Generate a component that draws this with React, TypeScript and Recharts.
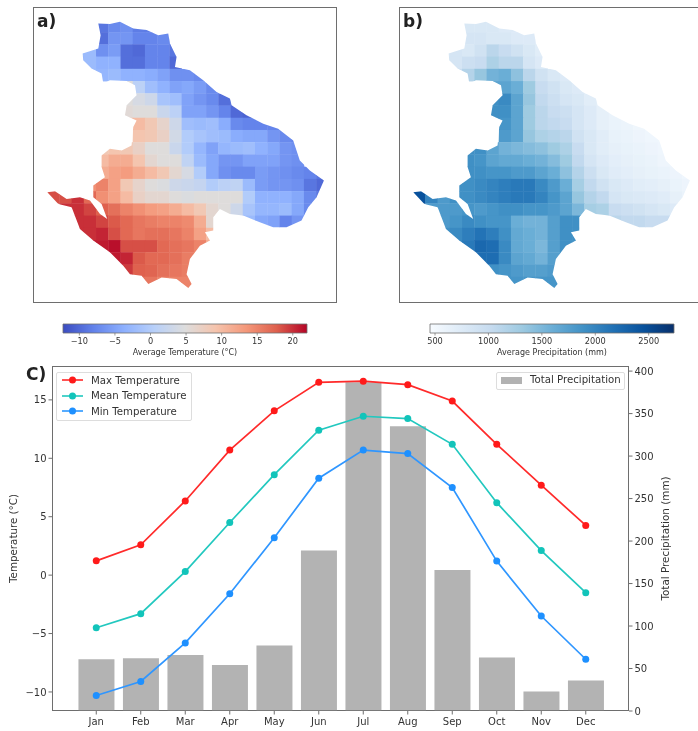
import {
  Bar,
  BarChart,
  ComposedChart,
  Line,
  Scatter,
  ScatterChart,
  XAxis,
  YAxis,
} from 'recharts';

// Monthly climate
const months = ['Jan', 'Feb', 'Mar', 'Apr', 'May', 'Jun', 'Jul', 'Aug', 'Sep', 'Oct', 'Nov', 'Dec'];
const maxTemp = [1.22, 2.6, 6.35, 10.7, 14.06, 16.5, 16.6, 16.3, 14.9, 11.2, 7.7, 4.25];
const meanTemp = [-4.5, -3.3, 0.3, 4.5, 8.6, 12.4, 13.6, 13.4, 11.2, 6.2, 2.1, -1.5];
const minTemp = [-10.3, -9.1, -5.8, -1.6, 3.2, 8.3, 10.7, 10.4, 7.5, 1.2, -3.5, -7.2];
const totalPrecip = [61, 62, 66, 54, 77, 189, 387, 335, 166, 63, 23, 36];

// Grid maps: first column of each row, then one list of values per row
const rowStarts = [4, 4, 2, 2, 3, 6, 6, 6, 6, 7, 4, 4, 4, 3, 0, 1, 2, 2, 3, 5, 6, 7];

const tempRows = [
  [-9, -7.3, -6.7, -8.4, -8.4, -7.8],
  [-9.5, -6.2, -6.2, -7.8, -7.8, -7.3, -7.8],
  [-2.3, -2.3, -6.7, -5.6, -9.5, -10, -7.8, -7.8, -9],
  [-2.9, -2.3, -3.4, -3.4, -9.5, -9.5, -7.8, -7.8, -10],
  [-2.3, -2.9, -2.3, -3.4, -3.4, -4, -5, -6.7, -6.7, -7.3],
  [5, 1, -1.8, -3.4, -5, -4.5, -5.6, -7.3],
  [5, 4, 3, -1, -1.8, -5, -6.2, -7.3, -9.5, -9],
  [5.5, 5, 5, 2.5, 1, -5, -5, -6.2, -7.8, -10, -10.5],
  [9, 10, 8.5, 6.5, 3, -1.8, -2.3, -1.8, -4, -7.3, -7.8, -7.8, -7.8],
  [9, 8.5, 7, 3.5, 0, -1, -1.8, -2.3, -4, -4.5, -4.5, -6.2, -7.3, -7.8],
  [8.5, 9, 8.5, 7, 5, 5, 2.5, 0, -2.9, -5, -2.9, -2.3, -1.8, -3.4, -4.5, -6.2, -6.7],
  [10, 11.5, 11.5, 9, 6, 5, 5, 1.5, -2.3, -4.5, -6.2, -6.2, -5, -5, -5, -6.2, -6.7],
  [11.5, 12.5, 13, 11.5, 10, 8.5, 6, 4, 0, -4.5, -6.7, -7.3, -7.3, -5.6, -6.2, -6.7, -7.3, -7.8, -9],
  [14, 15, 12.5, 8.5, 6.5, 5, 4.5, 3, 2.5, 2, 0, 1, 1.5, -2.3, -5.6, -6.2, -6.2, -6.7, -9, -10],
  [18.5, 18.5, 20, 17, 14, 12.5, 10, 7, 6, 6, 5, 4.5, 5, 5, 5, 5, 0, -3.4, -3.4, -3.4, -4.5, -7.3, -9],
  [20, 20, 19, 17.6, 16.5, 15, 14, 13, 12.5, 11.5, 10, 8.5, 6, 5, 3, -1, -2.9, -2.9, -2.3, -4.5, -7.3],
  [20, 20, 19, 18, 17, 16, 15.5, 15, 15, 14.5, 11.5, 6, 5, 3, -2.3, -4.5, -5, -7.8, -6.2],
  [20, 20, 20.5, 18.5, 17, 16, 16.5, 16.5, 16, 15, 12.5, 10],
  [21, 21, 21.5, 18.5, 18.5, 18.5, 17, 16.5, 16, 15, 11.5],
  [21, 20.5, 18, 17, 17, 16.5, 15.5, 14],
  [19.5, 17.6, 17.3, 16.5, 16, 15.5, 14],
  [16, 16, 15, 15, 15, 15],
];

const precipRows = [
  [800, 800, 800, 750, 750, 700],
  [850, 850, 800, 800, 750, 750, 700],
  [800, 850, 800, 900, 1100, 1000, 900, 800, 700],
  [850, 850, 950, 1000, 1200, 1100, 1100, 850, 750],
  [1000, 1150, 1350, 1550, 1600, 1400, 1100, 900, 800, 750],
  [1700, 1700, 1600, 1300, 1000, 900, 800, 750],
  [1900, 1950, 1700, 1350, 1050, 950, 850, 800, 700, 650],
  [1900, 1900, 1700, 1300, 1100, 1000, 950, 850, 750, 650, 600],
  [1900, 1850, 1700, 1300, 1100, 1050, 1000, 850, 750, 650, 600, 580, 550],
  [1800, 1700, 1350, 1200, 1150, 1100, 900, 800, 700, 620, 600, 570, 540, 530],
  [1900, 1900, 1700, 1550, 1500, 1450, 1400, 1300, 1200, 1000, 800, 700, 650, 620, 600, 570, 540],
  [1900, 1850, 1700, 1650, 1650, 1600, 1550, 1450, 1300, 1050, 850, 750, 680, 650, 620, 600, 560, 530],
  [1900, 1900, 1850, 1850, 1800, 1800, 1700, 1600, 1400, 1150, 950, 800, 720, 680, 650, 620, 600, 570, 540],
  [1900, 1900, 1950, 2000, 2050, 2100, 2100, 1950, 1800, 1600, 1250, 1050, 900, 800, 750, 700, 680, 650, 600, 570],
  [2450, 2000, 1800, 1900, 1900, 1950, 2000, 2050, 2100, 2100, 2000, 1850, 1700, 1350, 1150, 1050, 850, 800, 780, 750, 720, 650, 600],
  [1800, 1800, 1800, 1850, 1800, 1850, 1900, 1900, 1850, 1850, 1800, 1700, 1500, 1250, 1200, 1000, 950, 900, 850, 800, 750],
  [1800, 1850, 1950, 1900, 1850, 1850, 1600, 1550, 1550, 1750, 1900, 1900, 1300, 1200, 1100, 1050, 1050, 1000, 1000],
  [1900, 1950, 2050, 2150, 2050, 1900, 1650, 1600, 1550, 1750, 1900, 1900],
  [2000, 2100, 2250, 2200, 1950, 1650, 1600, 1500, 1750, 1900, 1900],
  [2200, 2200, 1950, 1700, 1650, 1550, 1750, 1850],
  [1900, 1850, 1800, 1750, 1750, 1800, 1850],
  [1850, 1850, 1850, 1850, 1850, 1850],
];

// Basin outline in grid units (columns, rows)
const outlineX = [
  4.17, 5.12, 5.94, 7.03, 8.12, 9.07, 9.89, 10.03, 10.57, 10.44, 11.66, 12.75, 13.84, 14.93, 15.07, 16.29,
  17.66, 18.88, 20.11, 20.65, 21.47, 22.62, 22.02, 21.34, 20.79, 19.56, 18.47, 17.38, 16.02, 14.93, 14.11,
  13.57, 13.57, 12.89, 13.3, 12.48, 11.66, 11.39, 11.8, 11.53, 10.57, 9.35, 8.26, 7.71, 6.76, 6.21, 5.12,
  3.76, 2.67, 1.99, 0.9, 0, 0.63, 1.58, 2.67, 3.49, 4.31, 4.9, 4.44, 3.76, 3.76, 4.71, 4.44, 4.44, 5.12,
  6.08, 6.89, 7.03, 7.3, 6.35, 6.49, 7.3, 7.17, 6.49, 5.12, 4.58, 4.44, 3.62, 2.94, 2.89, 4.17, 4.36,
];
const outlineY = [
  0.27, 0.33, 0.14, 0.68, 0.82, 1.23, 1.09, 1.91, 3.01, 3.83, 4.1, 4.92, 5.87, 6.42, 6.97, 7.79, 8.47, 8.88,
  9.84, 11.48, 12.3, 13.11, 14.48, 15.3, 16.39, 16.94, 16.94, 16.53, 15.98, 15.85, 15.44, 16.12, 17.21, 17.35,
  18.03, 18.44, 19.54, 20.77, 21.58, 21.91, 21.17, 21.04, 21.58, 20.9, 20.77, 20.08, 18.99, 18.03, 17.08, 15.3,
  15.03, 14.07, 14, 14.62, 14.48, 14.75, 15.85, 16.26, 15.03, 14.48, 13.52, 12.84, 12.02, 11.07, 10.52, 10.66,
  10.25, 8.74, 8.2, 7.79, 6.97, 6.15, 5.33, 4.97, 4.92, 5.19, 4.37, 3.96, 3.28, 2.73, 2.32, 1.23,
];

const tempDomain = [-12.3, 22];
const tempTicks = [-10, -5, 0, 5, 10, 15, 20];
const precipDomain = [453, 2737];
const precipTicks = [500, 1000, 1500, 2000, 2500];
const tempAxisTicks = [-10, -5, 0, 5, 10, 15];
const precipAxisTicks = [0, 50, 100, 150, 200, 250, 300, 350, 400];

const coolwarm = ['#3b4cc0', '#6282ea', '#8db0fe', '#b8d0f9', '#dddddd', '#f5c4ad', '#f4987a', '#de604d', '#b40426'];
const blues = ['#f7fbff', '#deebf7', '#c6dbef', '#9ecae1', '#6baed6', '#4292c6', '#2171b5', '#08519c', '#08306b'];

const TEXT = '#333';
const SPINE = '#6e6e6e';
const FONT = '"DejaVu Sans", sans-serif';
const CELL = 12.23;

const climate = months.map((month, i) => ({
  month,
  max: maxTemp[i],
  mean: meanTemp[i],
  min: minTemp[i],
  precip: totalPrecip[i],
}));

const outline = outlineX.map((x, i) => ({ x, y: outlineY[i] }));

function toCells(rows: number[][]) {
  return rows.flatMap((row, r) => row.map((value, i) => ({ x: rowStarts[r] + i + 0.5, y: r + 0.5, value })));
}

function mixColor(stops: string[], t: number) {
  const pos = Math.min(Math.max(t, 0), 1) * (stops.length - 1);
  const i = Math.min(Math.floor(pos), stops.length - 2);
  const f = pos - i;
  const parts = [1, 3, 5].map((k) => {
    const a = parseInt(stops[i].slice(k, k + 2), 16);
    const b = parseInt(stops[i + 1].slice(k, k + 2), 16);
    return Math.round(a + (b - a) * f);
  });
  return `rgb(${parts.join(',')})`;
}

function MapPanel({ id, left, label, rows, stops, domain }: any) {
  const clip = `clip-${id}`;
  return (
    <div style={{ position: 'absolute', left, top: 7, width: 304, height: 296 }}>
      <ScatterChart width={304} height={296} margin={{ top: 0, right: 0, bottom: 0, left: 0 }}>
        <XAxis type="number" dataKey="x" domain={[-1.17, 23.69]} hide />
        <YAxis type="number" dataKey="y" domain={[-1.07, 23.13]} reversed hide />
        <Scatter
          data={outline}
          isAnimationActive={false}
          shape={() => null}
          line={(p: any) => (
            <clipPath id={clip}>
              <polygon points={p.points.map((q: any) => `${q.x},${q.y}`).join(' ')} />
            </clipPath>
          )}
        />
        <Scatter
          data={toCells(rows)}
          isAnimationActive={false}
          shape={(p: any) => (
            <rect
              x={p.cx - CELL / 2 - 0.2}
              y={p.cy - CELL / 2 - 0.2}
              width={CELL + 0.4}
              height={CELL + 0.4}
              fill={mixColor(stops, (p.payload.value - domain[0]) / (domain[1] - domain[0]))}
              clipPath={`url(#${clip})`}
            />
          )}
        />
      </ScatterChart>
      <div style={{ position: 'absolute', inset: 0, border: `1.5px solid ${SPINE}`, pointerEvents: 'none' }} />
      <div style={{ position: 'absolute', left: 4, top: 4, fontFamily: FONT, fontWeight: 700, fontSize: 17, color: '#222' }}>
        {label}
      </div>
    </div>
  );
}

function ColorBar({ id, left, stops, domain, ticks, title, format }: any) {
  return (
    <div style={{ position: 'absolute', left: left - 20, top: 323 }}>
      <BarChart
        width={284}
        height={36}
        layout="vertical"
        data={[{ name: title, range: domain }]}
        margin={{ top: 1, right: 20, bottom: 0, left: 20 }}
        barCategoryGap={0}
      >
        <defs>
          <linearGradient id={id} x1="0" y1="0" x2="1" y2="0">
            {stops.map((c: string, i: number) => (
              <stop key={c} offset={i / (stops.length - 1)} stopColor={c} />
            ))}
          </linearGradient>
        </defs>
        <XAxis
          type="number"
          domain={domain}
          ticks={ticks}
          height={26}
          axisLine={false}
          tickSize={2.5}
          tickMargin={2.5}
          tickLine={{ stroke: SPINE, strokeWidth: 0.7 }}
          tick={{ fontSize: 8.2, fill: TEXT, fontFamily: FONT }}
          tickFormatter={format}
          interval={0}
          label={{ value: title, position: 'insideBottom', offset: 4, fontSize: 8, fill: TEXT, fontFamily: FONT }}
        />
        <YAxis type="category" dataKey="name" hide />
        <Bar dataKey="range" fill={`url(#${id})`} stroke={SPINE} strokeWidth={0.8} isAnimationActive={false} />
      </BarChart>
    </div>
  );
}

const minusSign = (v: number) => String(v).replace('-', '\u2212');

function LegendRow({ color, label, top }: any) {
  return (
    <div style={{ position: 'absolute', left: 5, top, height: 14, display: 'flex', alignItems: 'center' }}>
      <svg width={21} height={14} style={{ display: 'block' }}>
        <line x1={0} y1={7} x2={21} y2={7} stroke={color} strokeWidth={1.5} />
        <circle cx={10.5} cy={7} r={3.5} fill={color} />
      </svg>
      <span style={{ marginLeft: 8, fontSize: 10.2, color: TEXT, whiteSpace: 'nowrap' }}>{label}</span>
    </div>
  );
}

export default function App() {
  return (
    <div
      style={{
        position: 'absolute',
        left: 0,
        top: 0,
        width: 698,
        height: 731,
        overflow: 'hidden',
        background: '#fff',
        fontFamily: FONT,
        filter: 'blur(0.7px)',
      }}
    >
      <MapPanel id="temp" left={33} label="a)" rows={tempRows} stops={coolwarm} domain={tempDomain} />
      <MapPanel id="precip" left={399} label="b)" rows={precipRows} stops={blues} domain={precipDomain} />

      <ColorBar
        id="tempBar"
        left={63}
        stops={coolwarm}
        domain={tempDomain}
        ticks={tempTicks}
        title="Average Temperature (°C)"
        format={minusSign}
      />
      <ColorBar
        id="precipBar"
        left={430}
        stops={blues}
        domain={precipDomain}
        ticks={precipTicks}
        title="Average Precipitation (mm)"
        format={minusSign}
      />

      <div style={{ position: 'absolute', left: 52, top: 366, width: 577, height: 345, border: `1.5px solid ${SPINE}`, boxSizing: 'border-box' }} />
      <div style={{ position: 'absolute', left: 0, top: 350 }}>
        <ComposedChart width={698} height={381} data={climate} margin={{ top: 16, right: 0, bottom: 0, left: 0 }} barCategoryGap="10%">
          <XAxis
            dataKey="month"
            height={20}
            padding={{ left: 22, right: 21 }}
            axisLine={false}
            interval={0}
            tickSize={3.5}
            tickMargin={3}
            tickLine={{ stroke: SPINE }}
            tick={{ fontSize: 10, fill: TEXT, fontFamily: FONT }}
          />
          <YAxis
            yAxisId="temp"
            width={52}
            domain={[-11.63, 17.9]}
            ticks={tempAxisTicks}
            axisLine={false}
            interval={0}
            tickSize={3.5}
            tickMargin={2}
            tickLine={{ stroke: SPINE }}
            tick={{ fontSize: 10, fill: TEXT, fontFamily: FONT }}
            tickFormatter={minusSign}
            label={{ value: 'Temperature (°C)', angle: -90, position: 'center', dx: -13, fontSize: 10.3, fill: TEXT, fontFamily: FONT }}
          />
          <YAxis
            yAxisId="precip"
            orientation="right"
            width={69}
            domain={[0, 406]}
            ticks={precipAxisTicks}
            axisLine={false}
            interval={0}
            tickSize={3.5}
            tickMargin={2}
            tickLine={{ stroke: SPINE }}
            tick={{ fontSize: 10, fill: TEXT, fontFamily: FONT }}
            label={{ value: 'Total Precipitation (mm)', angle: -90, position: 'center', dx: 2, fontSize: 10.4, fill: TEXT, fontFamily: FONT }}
          />
          <Line yAxisId="temp" dataKey="max" stroke="#ff2a2a" strokeWidth={1.7} dot={{ r: 3.5, fill: '#ff1a1a', stroke: '#ff1a1a', strokeWidth: 0 }} isAnimationActive={false} />
          <Line yAxisId="temp" dataKey="mean" stroke="#22c8bf" strokeWidth={1.7} dot={{ r: 3.5, fill: '#12c4ba', stroke: '#12c4ba', strokeWidth: 0 }} isAnimationActive={false} />
          <Line yAxisId="temp" dataKey="min" stroke="#2f96ff" strokeWidth={1.7} dot={{ r: 3.5, fill: '#1e90ff', stroke: '#1e90ff', strokeWidth: 0 }} isAnimationActive={false} />
          <Bar yAxisId="precip" dataKey="precip" fill="#808080" fillOpacity={0.6} isAnimationActive={false} />
        </ComposedChart>
      </div>

      <div style={{ position: 'absolute', left: 26, top: 364, fontWeight: 700, fontSize: 17, color: '#222' }}>C)</div>

      <div style={{ position: 'absolute', left: 56, top: 372, width: 136, height: 49, background: 'rgba(255,255,255,0.8)', border: '1px solid #ddd', boxSizing: 'border-box', borderRadius: 2 }}>
        <LegendRow color="#ff1a1a" label="Max Temperature" top={0} />
        <LegendRow color="#12c4ba" label="Mean Temperature" top={15.5} />
        <LegendRow color="#1e90ff" label="Min Temperature" top={31} />
      </div>
      <div style={{ position: 'absolute', left: 496, top: 372, width: 129, height: 18, background: 'rgba(255,255,255,0.8)', border: '1px solid #ddd', boxSizing: 'border-box', borderRadius: 2 }}>
        <div style={{ position: 'absolute', left: 4, top: 4, width: 21, height: 7, background: '#b2b2b2' }} />
        <span style={{ position: 'absolute', left: 33, top: 1, fontSize: 10.2, color: TEXT, whiteSpace: 'nowrap' }}>Total Precipitation</span>
      </div>
    </div>
  );
}
